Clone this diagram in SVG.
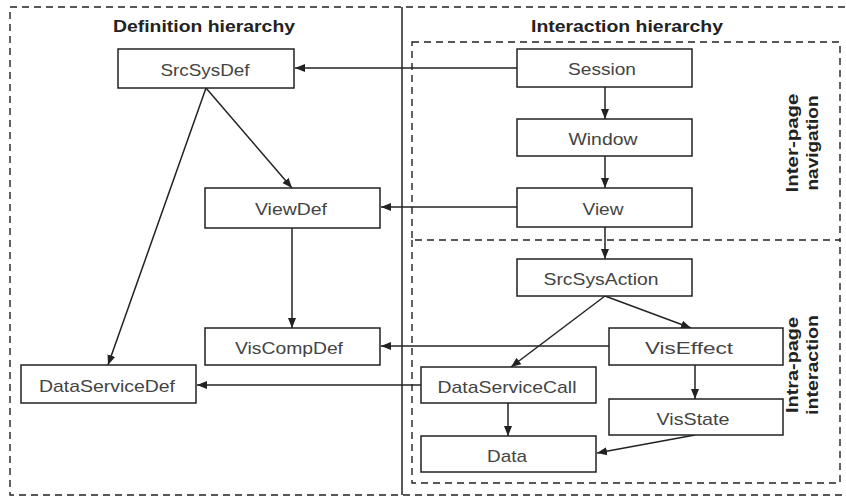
<svg xmlns="http://www.w3.org/2000/svg" width="846" height="497" viewBox="0 0 846 497">
<defs>
<style>
.box{fill:#fff;stroke:#222;stroke-width:1.5}
.lbl{font-family:"Liberation Sans",Arial,sans-serif;font-size:17px;fill:#444;text-anchor:middle}
.title{font-family:"Liberation Sans",Arial,sans-serif;font-size:16px;font-weight:bold;fill:#222;text-anchor:middle}
.dash{fill:none;stroke:#222;stroke-width:1.4;stroke-dasharray:7 5}
.edge{fill:none;stroke:#222;stroke-width:1.5;marker-end:url(#ah)}
</style>
<marker id="ah" markerUnits="userSpaceOnUse" markerWidth="10" markerHeight="10" viewBox="0 0 10 10" refX="10" refY="5" orient="auto">
<path d="M0,1 L10,5 L0,9 Z" fill="#222"/>
</marker>
</defs>
<rect width="846" height="497" fill="#fff"/>
<g id="frames">
<rect class="dash" x="10" y="7" width="850" height="488"/>
<line x1="402" y1="7" x2="402" y2="495" stroke="#222" stroke-width="1.5"/>
<rect class="dash" x="412" y="42" width="428" height="198"/>
<path class="dash" d="M412,240 V483 H840 V240"/>
<text class="title" x="204" y="32" textLength="182" lengthAdjust="spacingAndGlyphs">Definition hierarchy</text>
<text class="title" x="627" y="32" textLength="192" lengthAdjust="spacingAndGlyphs">Interaction hierarchy</text>
<text class="title" transform="translate(798,143) rotate(-90)" textLength="99" lengthAdjust="spacingAndGlyphs">Inter-page</text>
<text class="title" transform="translate(818,143) rotate(-90)" textLength="95" lengthAdjust="spacingAndGlyphs">navigation</text>
<text class="title" transform="translate(798,365) rotate(-90)" textLength="96" lengthAdjust="spacingAndGlyphs">Intra-page</text>
<text class="title" transform="translate(818,365) rotate(-90)" textLength="100" lengthAdjust="spacingAndGlyphs">interaction</text>
</g>
<g id="connectors">
<line class="edge" x1="517" y1="68" x2="295" y2="68"/>
<line class="edge" x1="517" y1="207" x2="381" y2="207"/>
<line class="edge" x1="609" y1="346" x2="381" y2="346"/>
<line class="edge" x1="421" y1="385" x2="197" y2="385"/>
<line class="edge" x1="605" y1="87" x2="605" y2="119"/>
<line class="edge" x1="605" y1="156" x2="605" y2="188"/>
<line class="edge" x1="605" y1="227" x2="605" y2="259"/>
<line class="edge" x1="206" y1="88" x2="292" y2="188"/>
<line class="edge" x1="206" y1="88" x2="108" y2="365"/>
<line class="edge" x1="292" y1="228" x2="292" y2="328"/>
<line class="edge" x1="605" y1="296" x2="691" y2="328"/>
<line class="edge" x1="605" y1="296" x2="511" y2="367"/>
<line class="edge" x1="695" y1="365" x2="695" y2="399"/>
<line class="edge" x1="508" y1="403" x2="508" y2="436"/>
<line class="edge" x1="695" y1="435" x2="597" y2="453"/>
</g>
<g id="SrcSysDef"><rect class="box" x="118" y="49" width="176" height="39"/><text class="lbl" x="205" y="76" textLength="89" lengthAdjust="spacingAndGlyphs">SrcSysDef</text></g>
<g id="ViewDef"><rect class="box" x="205" y="188" width="175" height="40"/><text class="lbl" x="291" y="215" textLength="72" lengthAdjust="spacingAndGlyphs">ViewDef</text></g>
<g id="VisCompDef"><rect class="box" x="205" y="328" width="175" height="37"/><text class="lbl" x="289" y="354" textLength="108" lengthAdjust="spacingAndGlyphs">VisCompDef</text></g>
<g id="DataServiceDef"><rect class="box" x="21" y="365" width="175" height="38"/><text class="lbl" x="107" y="392" textLength="136" lengthAdjust="spacingAndGlyphs">DataServiceDef</text></g>
<g id="Session"><rect class="box" x="517" y="49" width="175" height="38"/><text class="lbl" x="602" y="75" textLength="68" lengthAdjust="spacingAndGlyphs">Session</text></g>
<g id="Window"><rect class="box" x="517" y="119" width="175" height="37"/><text class="lbl" x="603" y="145" textLength="69" lengthAdjust="spacingAndGlyphs">Window</text></g>
<g id="View"><rect class="box" x="517" y="188" width="175" height="39"/><text class="lbl" x="603" y="215" textLength="41" lengthAdjust="spacingAndGlyphs">View</text></g>
<g id="SrcSysAction"><rect class="box" x="517" y="259" width="175" height="37"/><text class="lbl" x="601" y="285" textLength="115" lengthAdjust="spacingAndGlyphs">SrcSysAction</text></g>
<g id="VisEffect"><rect class="box" x="609" y="328" width="174" height="37"/><text class="lbl" x="689" y="354" textLength="88" lengthAdjust="spacingAndGlyphs">VisEffect</text></g>
<g id="DataServiceCall"><rect class="box" x="421" y="367" width="175" height="36"/><text class="lbl" x="507" y="393" textLength="139" lengthAdjust="spacingAndGlyphs">DataServiceCall</text></g>
<g id="VisState"><rect class="box" x="609" y="399" width="174" height="36"/><text class="lbl" x="693" y="425" textLength="73" lengthAdjust="spacingAndGlyphs">VisState</text></g>
<g id="Data"><rect class="box" x="421" y="436" width="175" height="36"/><text class="lbl" x="507" y="462" textLength="40" lengthAdjust="spacingAndGlyphs">Data</text></g>
</svg>
